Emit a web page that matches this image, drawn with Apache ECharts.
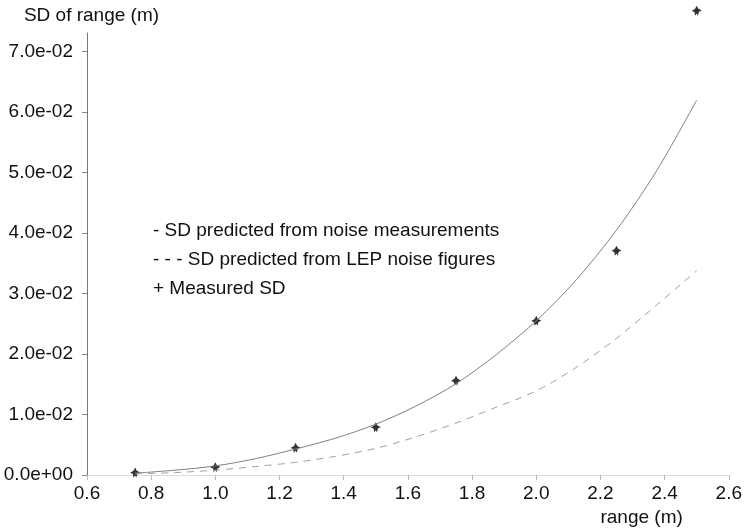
<!DOCTYPE html>
<html>
<head>
<meta charset="utf-8">
<script src="https://cdn.jsdelivr.net/npm/echarts@6/dist/echarts.min.js"></script>
<style>
html,body{margin:0;padding:0;background:#fff;}
#chart{width:745px;height:528px;}
</style>
</head>
<body>
<div id="chart"></div>
<script>
// ---- data ----
var xTicks = [0.6, 0.8, 1.0, 1.2, 1.4, 1.6, 1.8, 2.0, 2.2, 2.4, 2.6];
var yTicks = [0, 0.01, 0.02, 0.03, 0.04, 0.05, 0.06, 0.07];

var measuredRange = [0.75, 1.0, 1.25, 1.5, 1.75, 2.0, 2.25, 2.5];
var measuredSD    = [0.0004, 0.0013, 0.0045, 0.0079, 0.0156, 0.0255, 0.0371, 0.0768];

var curveRange  = [0.75, 0.875, 1.0, 1.125, 1.25, 1.375, 1.5, 1.625, 1.75, 1.875, 2.0, 2.125, 2.25, 2.375, 2.5];
var noiseSD     = [0.0003, 0.0008, 0.0015, 0.0027, 0.0043, 0.0061, 0.0084, 0.0114, 0.0151, 0.0199, 0.0255, 0.0323, 0.0405, 0.0503, 0.0620];
var lepSD       = [0.0002, 0.0004, 0.0008, 0.0014, 0.0021, 0.0031, 0.0044, 0.0063, 0.0086, 0.0112, 0.0139, 0.0178, 0.0226, 0.0281, 0.0338];

var nameNoise = 'SD predicted from noise measurements';
var nameLep = 'SD predicted from LEP noise figures';
var nameMeas = 'Measured SD';
var legendPrefix = {};
legendPrefix[nameNoise] = '- ';
legendPrefix[nameLep] = '- - - ';
legendPrefix[nameMeas] = '+ ';

function zip(a, b) { return a.map(function (v, i) { return [v, b[i]]; }); }

var FONT = '"Liberation Sans", Arial, Helvetica, sans-serif';
var chart = echarts.init(document.getElementById('chart'), null, {renderer: 'canvas'});
chart.setOption({
  animation: false,
  backgroundColor: '#fff',
  textStyle: {fontFamily: FONT, color: '#111'},
  grid: {left: 87, right: 13, top: 33, bottom: 53, containLabel: false},
  legend: {
    orient: 'vertical',
    left: 148,
    top: 221,
    padding: 0,
    itemGap: 9,
    itemWidth: 0,
    itemHeight: 0,
    icon: 'rect',
    selectedMode: false,
    data: [nameNoise, nameLep, nameMeas],
    formatter: function (n) { return legendPrefix[n] + n; },
    textStyle: {fontFamily: FONT, fontSize: 19, color: '#111', lineHeight: 20}
  },
  xAxis: {
    type: 'value',
    min: 0.6,
    max: 2.6,
    interval: 0.2,
    name: 'range (m)',
    nameLocation: 'end',
    nameGap: -46,
    nameTextStyle: {fontFamily: FONT, fontSize: 19, color: '#111', align: 'right', verticalAlign: 'top', padding: [33, 0, 0, 0]},
    axisLine: {show: true, lineStyle: {color: '#d4d4d4', width: 1, type: 'dotted'}},
    axisTick: {show: true, length: 5, lineStyle: {color: '#bbb'}},
    axisLabel: {fontFamily: FONT, fontSize: 19, color: '#111', margin: 9,
      formatter: function (v) { return v.toFixed(1); }},
    splitLine: {show: false}
  },
  yAxis: {
    type: 'value',
    min: 0,
    max: 0.0731,
    interval: 0.01,
    name: 'SD of range (m)',
    nameLocation: 'end',
    nameGap: 8,
    nameTextStyle: {fontFamily: FONT, fontSize: 19, color: '#111', padding: [0, 0, 0, 9]},
    axisLine: {show: true, lineStyle: {color: '#777', width: 1}},
    axisTick: {show: true, length: 5, lineStyle: {color: '#888'}, customValues: yTicks},
    axisLabel: {fontFamily: FONT, fontSize: 19, color: '#111', margin: 14, customValues: yTicks,
      formatter: function (v) {
        var parts = v.toExponential(1).split('e');
        var exp = parseInt(parts[1], 10);
        var sign = exp < 0 ? '-' : '+';
        var ab = Math.abs(exp);
        return parts[0] + 'e' + sign + (ab < 10 ? '0' + ab : ab);
      }},
    splitLine: {show: false}
  },
  series: [
    {
      name: nameNoise,
      type: 'line',
      data: zip(curveRange, noiseSD),
      smooth: 0.3,
      showSymbol: false,
      symbol: 'none',
      color: '#777',
      lineStyle: {color: '#808080', width: 1}
    },
    {
      name: nameLep,
      type: 'line',
      data: zip(curveRange, lepSD),
      smooth: 0.3,
      showSymbol: false,
      symbol: 'none',
      color: '#aaa',
      lineStyle: {color: '#a0a0a0', width: 1, type: [7, 6]}
    },
    {
      name: nameMeas,
      type: 'scatter',
      data: zip(measuredRange, measuredSD),
      clip: false,
      symbol: 'path://M0,-10 L3,-4 L9,-1 L4,2 L2,9 L0,5 L-3,9 L-4,2 L-9,0 L-3,-4 Z',
      symbolSize: 10,
      itemStyle: {color: '#000'}
    }
  ]
});
</script>
</body>
</html>
